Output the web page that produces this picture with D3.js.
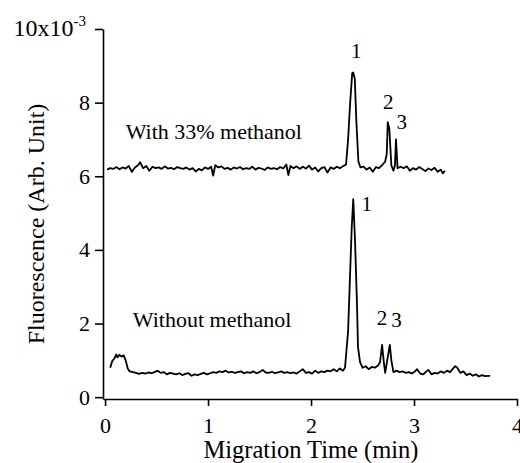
<!DOCTYPE html>
<html lang="en">
<head>
<meta charset="utf-8">
<title>Migration time electropherogram</title>
<script src="https://d3js.org/d3.v7.min.js"></script>
<style>
  body { margin: 0; background: #fff; }
  svg { display: block; }
  .axis path, .axis line { stroke: #000; stroke-width: 1.6px; }
</style>
</head>
<body>
<div id="chart"></div>
<script>
// x tick values (min) and y tick values (x10^-3)
var xTicks = [0, 1, 2, 3, 4];
var yTicks = [0, 2, 4, 6, 8, 10];

// trace recorded with 33% methanol
var timeUpper = [0.02,0.05,0.08,0.11,0.14,0.17,0.20,0.23,0.26,0.29,0.32,0.34,0.37,0.40,0.43,0.46,0.49,0.52,0.55,0.58,
  0.61,0.64,0.67,0.70,0.73,0.76,0.79,0.82,0.85,0.88,0.91,0.94,0.97,1.00,1.03,1.05,1.07,1.10,1.13,1.16,
  1.19,1.22,1.25,1.28,1.31,1.34,1.37,1.40,1.43,1.46,1.49,1.52,1.55,1.58,1.61,1.64,1.67,1.70,1.73,1.76,
  1.78,1.80,1.83,1.86,1.89,1.92,1.95,1.98,2.01,2.04,2.07,2.10,2.13,2.16,2.19,2.22,2.25,2.28,2.31,2.34,
  2.36,2.38,2.40,2.41,2.425,2.44,2.46,2.48,2.51,2.54,2.57,2.60,2.63,2.66,2.69,2.72,2.735,2.745,2.76,2.78,
  2.80,2.815,2.825,2.84,2.87,2.90,2.93,2.96,2.99,3.02,3.05,3.08,3.11,3.14,3.17,3.20,3.23,3.26,3.28,3.30];
var signalUpper = [6.18,6.22,6.20,6.25,6.19,6.24,6.21,6.28,6.12,6.24,6.30,6.38,6.22,6.28,6.15,6.26,6.22,6.24,6.20,6.27,
  6.21,6.23,6.19,6.25,6.22,6.20,6.24,6.18,6.22,6.13,6.20,6.16,6.24,6.20,6.26,6.02,6.30,6.24,6.27,6.20,
  6.23,6.18,6.24,6.21,6.25,6.19,6.22,6.20,6.26,6.18,6.23,6.21,6.17,6.24,6.20,6.22,6.19,6.25,6.21,6.32,
  6.03,6.28,6.22,6.27,6.20,6.26,6.21,6.29,6.18,6.24,6.13,6.22,6.25,6.10,6.24,6.20,6.26,6.22,6.27,6.32,
  7.00,8.00,8.80,8.82,8.65,7.50,6.40,6.24,6.26,6.18,6.24,6.12,6.25,6.22,6.30,6.40,6.60,7.47,7.30,6.30,
  6.15,6.30,7.00,6.22,6.26,6.22,6.27,6.15,6.22,6.18,6.25,6.20,6.14,6.21,6.17,6.23,6.12,6.18,6.08,6.15];

// trace recorded without methanol
var timeLower = [0.05,0.07,0.09,0.11,0.12,0.14,0.16,0.18,0.20,0.22,0.24,0.27,0.30,0.33,0.36,0.39,0.42,0.45,0.48,0.51,
  0.54,0.57,0.60,0.63,0.66,0.69,0.72,0.75,0.78,0.81,0.84,0.87,0.90,0.93,0.96,0.99,1.02,1.05,1.08,1.11,
  1.14,1.17,1.20,1.23,1.26,1.29,1.32,1.35,1.38,1.41,1.44,1.47,1.50,1.53,1.56,1.59,1.62,1.65,1.68,1.71,
  1.74,1.77,1.80,1.83,1.86,1.89,1.92,1.95,1.98,2.01,2.04,2.07,2.10,2.13,2.16,2.19,2.22,2.25,2.28,2.31,
  2.33,2.36,2.38,2.395,2.41,2.427,2.447,2.456,2.476,2.50,2.53,2.56,2.59,2.62,2.65,2.67,2.69,2.705,2.72,2.74,
  2.765,2.78,2.80,2.83,2.86,2.89,2.92,2.95,2.98,3.01,3.03,3.06,3.09,3.12,3.14,3.17,3.20,3.23,3.26,3.29,
  3.32,3.35,3.38,3.40,3.42,3.45,3.48,3.51,3.54,3.57,3.60,3.63,3.66,3.69,3.72,3.74];
var signalLower = [0.80,0.98,1.05,1.16,1.08,1.15,1.10,1.14,1.00,0.78,0.70,0.68,0.66,0.63,0.66,0.64,0.67,0.65,0.68,0.72,
  0.66,0.68,0.62,0.66,0.64,0.62,0.65,0.60,0.63,0.65,0.58,0.62,0.60,0.63,0.66,0.62,0.65,0.68,0.66,0.70,
  0.68,0.72,0.67,0.69,0.66,0.68,0.70,0.65,0.68,0.66,0.70,0.65,0.68,0.74,0.67,0.66,0.69,0.65,0.67,0.70,
  0.66,0.68,0.65,0.67,0.64,0.70,0.76,0.66,0.68,0.64,0.72,0.66,0.70,0.68,0.72,0.70,0.76,0.70,0.78,0.72,
  0.80,1.80,3.40,4.60,5.38,4.27,2.45,1.36,0.95,0.80,0.84,0.76,0.82,0.80,0.86,0.95,1.42,1.00,0.66,1.00,
  1.42,1.00,0.68,0.72,0.68,0.70,0.66,0.68,0.64,0.70,0.76,0.64,0.62,0.70,0.74,0.62,0.66,0.64,0.70,0.66,
  0.72,0.68,0.78,0.84,0.80,0.66,0.70,0.60,0.64,0.58,0.62,0.56,0.60,0.57,0.58,0.58];

// trace captions and peak numbers
var captions = [
  {text: "With 33% methanol", t: 0.2, v: 7.0},
  {text: "Without methanol", t: 0.27, v: 1.9}
];
var peakLabels = [
  {text: "1", t: 2.44, v: 9.2},
  {text: "2", t: 2.75, v: 7.82},
  {text: "3", t: 2.88, v: 7.28},
  {text: "1", t: 2.54, v: 5.05},
  {text: "2", t: 2.69, v: 1.95},
  {text: "3", t: 2.83, v: 1.9}
];

var serif = "'Liberation Serif', 'Times New Roman', Times, 'DejaVu Serif', serif";
var width = 520, height = 463;

var x = d3.scaleLinear().domain([-0.02, 4]).range([103, 517]);
var y = d3.scaleLinear().domain([-0.05, 10]).range([399, 29]);

var svg = d3.select("#chart").append("svg")
  .attr("width", width)
  .attr("height", height);

// axes
var xAxis = d3.axisBottom(x).tickValues(xTicks).tickSize(7).tickSizeOuter(0).tickPadding(11)
  .tickFormat(d3.format("d"));
var yAxis = d3.axisLeft(y).tickValues(yTicks).tickSize(8).tickSizeOuter(0).tickPadding(5)
  .tickFormat(function(d) { return d === 10 ? "" : d; });

svg.append("g").attr("class", "axis")
  .attr("transform", "translate(0," + y(-0.05) + ")")
  .call(xAxis);

svg.append("g").attr("class", "axis")
  .attr("transform", "translate(" + x(-0.02) + ",0)")
  .call(yAxis);

svg.selectAll(".axis text")
  .style("font-family", serif)
  .style("font-size", "22px")
  .style("fill", "#000");

// exponent label on top tick
var expo = svg.append("text")
  .attr("x", 86)
  .attr("y", y(10) + 7)
  .attr("text-anchor", "end")
  .style("font-family", serif)
  .style("font-size", "24px");
expo.append("tspan").text("10x10");
expo.append("tspan").attr("dy", -10).style("font-size", "15px").text("-3");

// axis titles
svg.append("text")
  .attr("x", 311)
  .attr("y", 458)
  .attr("text-anchor", "middle")
  .style("font-family", serif)
  .style("font-size", "24.5px")
  .text("Migration Time (min)");

svg.append("text")
  .attr("transform", "translate(44," + 224 + ") rotate(-90)")
  .attr("text-anchor", "middle")
  .style("font-family", serif)
  .style("font-size", "24px")
  .text("Fluorescence (Arb. Unit)");

// traces
var line = d3.line()
  .x(function(d) { return x(d[0]); })
  .y(function(d) { return y(d[1]); });

var traces = [d3.zip(timeUpper, signalUpper), d3.zip(timeLower, signalLower)];

svg.selectAll("path.trace")
  .data(traces)
  .enter()
  .append("path")
  .attr("class", "trace")
  .attr("d", line)
  .style("fill", "none")
  .style("stroke", "#000")
  .style("stroke-width", "1.8")
  .style("stroke-linejoin", "round");

// captions
svg.selectAll("text.caption")
  .data(captions)
  .enter()
  .append("text")
  .attr("class", "caption")
  .attr("x", function(d) { return x(d.t); })
  .attr("y", function(d) { return y(d.v); })
  .style("font-family", serif)
  .style("font-size", "22px")
  .text(function(d) { return d.text; });

svg.selectAll("text.peak")
  .data(peakLabels)
  .enter()
  .append("text")
  .attr("class", "peak")
  .attr("x", function(d) { return x(d.t); })
  .attr("y", function(d) { return y(d.v); })
  .attr("text-anchor", "middle")
  .style("font-family", serif)
  .style("font-size", "21px")
  .text(function(d) { return d.text; });
</script>
</body>
</html>
